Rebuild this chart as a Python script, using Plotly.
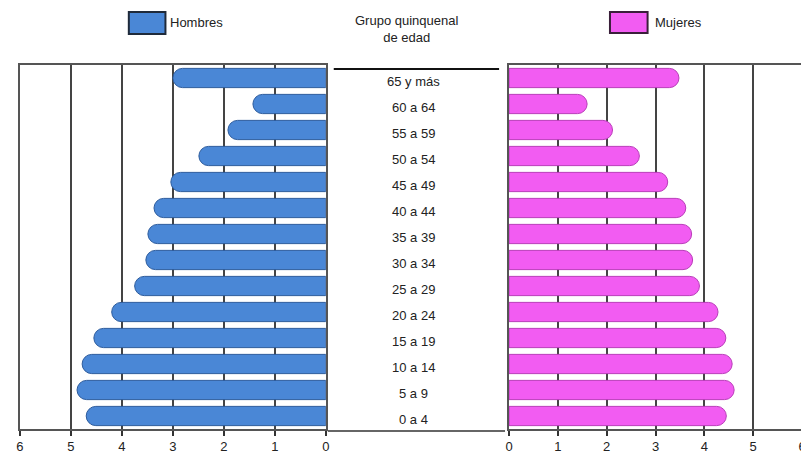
import plotly.graph_objects as go

categories = ["0 a 4", "5 a 9", "10 a 14", "15 a 19", "20 a 24", "25 a 29", "30 a 34",
              "35 a 39", "40 a 44", "45 a 49", "50 a 54", "55 a 59", "60 a 64", "65 y más"]
hombres = [4.70, 4.88, 4.78, 4.55, 4.20, 3.75, 3.53, 3.49, 3.37, 3.04, 2.49, 1.92, 1.43, 3.00]
mujeres = [4.45, 4.61, 4.57, 4.44, 4.28, 3.90, 3.76, 3.74, 3.62, 3.25, 2.67, 2.12, 1.60, 3.48]
tick_vals = [0, 1, 2, 3, 4, 5, 6]

# page body has an 8px margin; the figure is sized to fill the rest of the window
OFF = 8
W, H = 809 - OFF, 459 - OFF
T, B = 65 - OFF, 30
plot_h = H - T - B

def px_x(p):
    return (p - OFF) / W

def px_y(p):
    return (H - B - (p - OFF)) / plot_h

BLUE = "#4a87d6"
BLUE_EDGE = "#2c5b9c"
PINK = "#f25cf2"
PINK_EDGE = "#b93cb9"

fig = go.Figure()
fig.add_trace(go.Bar(y=categories, x=hombres, orientation="h", xaxis="x", yaxis="y",
                     marker=dict(color=BLUE, line=dict(color=BLUE_EDGE, width=1)),
                     name="Hombres", showlegend=False, hoverinfo="x+y"))
fig.add_trace(go.Bar(y=categories, x=mujeres, orientation="h", xaxis="x2", yaxis="y2",
                     marker=dict(color=PINK, line=dict(color=PINK_EDGE, width=1)),
                     name="Mujeres", showlegend=False, hoverinfo="x+y"))

axis_font = dict(family="Liberation Sans, Arial, sans-serif", size=13, color="#222")
common_x = dict(tickvals=tick_vals, ticks="outside", ticklen=5, tickcolor="#333",
                tickwidth=1.5, showline=True, linecolor="#555", linewidth=1.5, mirror=True,
                showgrid=True, gridcolor="#444", gridwidth=1.5, zeroline=False,
                tickfont=axis_font, fixedrange=True)

fig.update_layout(
    width=W, height=H,
    margin=dict(l=0, r=0, t=T, b=B),
    paper_bgcolor="white", plot_bgcolor="white",
    bargap=0.26, barcornerradius="50%",
    xaxis=dict(domain=[px_x(16), px_x(325)], range=[6, 0], **common_x),
    xaxis2=dict(domain=[px_x(510), px_x(806)], range=[0, 6], **common_x),
    yaxis=dict(anchor="x", categoryorder="array", categoryarray=categories,
               showticklabels=False, showline=True, linecolor="#555", linewidth=1.5,
               mirror=True, ticks="", fixedrange=True, range=[-0.5, 13.5]),
    yaxis2=dict(anchor="x2", matches="y", categoryorder="array", categoryarray=categories,
                showticklabels=False, showline=True, linecolor="#555", linewidth=1.5,
                mirror=True, ticks="", fixedrange=True),
    font=dict(family="Liberation Sans, Arial, sans-serif", color="#222"),
)

label_font = dict(family="Liberation Sans, Arial, sans-serif", size=13, color="#222")
annotations = []
for c in categories:
    annotations.append(dict(x=px_x(414), xref="paper", y=c, yref="y", text=c,
                            showarrow=False, font=label_font, yshift=-3,
                            xanchor="center", yanchor="middle"))
annotations.append(dict(x=px_x(406), xref="paper", y=px_y(29), yref="paper",
                        text="Grupo quinquenal<br>de edad", showarrow=False,
                        font=label_font, align="center", xanchor="center", yanchor="middle"))
annotations.append(dict(x=px_x(166), xref="paper", y=px_y(23), yref="paper",
                        text="Hombres", showarrow=False, xanchor="left", yanchor="middle",
                        font=label_font))
annotations.append(dict(x=px_x(655), xref="paper", y=px_y(23), yref="paper",
                        text="Mujeres", showarrow=False, xanchor="left", yanchor="middle",
                        font=label_font))
fig.update_layout(annotations=annotations)

shapes = [
    dict(type="rect", xref="paper", yref="paper", x0=px_x(126), x1=px_x(163),
         y0=px_y(34), y1=px_y(12), fillcolor=BLUE, line=dict(color="#1f2a3a", width=2)),
    dict(type="rect", xref="paper", yref="paper", x0=px_x(612), x1=px_x(650),
         y0=px_y(33), y1=px_y(12), fillcolor=PINK, line=dict(color="#3a1f3a", width=2)),
    dict(type="line", xref="paper", yref="paper", x0=px_x(333), x1=px_x(500),
         y0=px_y(69), y1=px_y(69), line=dict(color="#111", width=2)),
    dict(type="line", xref="paper", yref="paper", x0=px_x(327), x1=px_x(506),
         y0=px_y(431), y1=px_y(431), line=dict(color="#666", width=2)),
]
fig.update_layout(shapes=shapes)

fig.write_html("out.html")
